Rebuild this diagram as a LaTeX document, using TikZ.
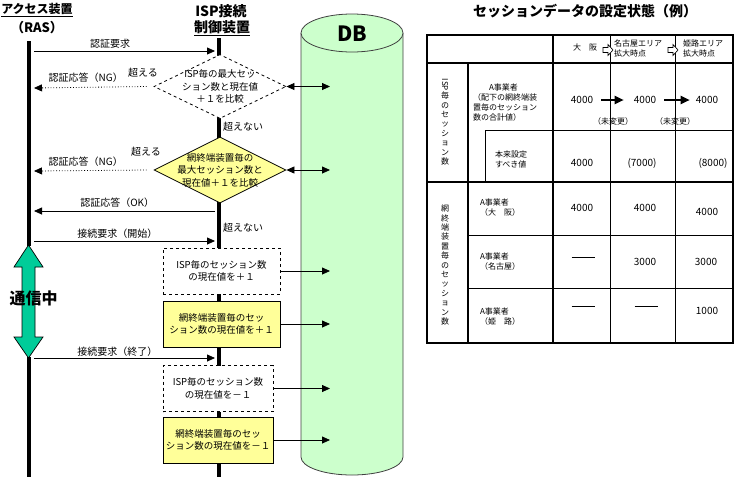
\documentclass[tikz,border=0pt]{standalone}
\usepackage{fontspec}
\setmainfont{Noto Sans CJK JP}
\usetikzlibrary{arrows.meta,shapes.geometric,positioning}
\definecolor{LYellow}{RGB}{255,255,153}
\definecolor{LGreen}{RGB}{204,255,204}
\definecolor{DGreen}{RGB}{0,204,153}
\definecolor{DGray}{HTML}{404040}
\newcommand{\fs}[2]{\fontsize{#1}{#2}\selectfont}
\NewDocumentCommand{\HollowArrow}{O{(0,0)}}{
    \begin{scope}[shift={#1}]
    \draw[fill=white, line width=0.6pt] (-5,-2.5) -- (0,-2.5) -- (0,-5.5)
        -- (5,0) -- (0,5.5) -- (0,2.5) -- (-5,2.5) -- cycle;
    \end{scope}
}
\NewDocumentCommand{\TalkArrow}{O{(0,0)}}{
    \begin{scope}[shift={#1}]
    \draw[fill=DGreen, line width=0.7pt] (0,0) -- (14.5,22) -- (6.5,22) -- (6.5,92)
        -- (14.5,92) -- (0,113) -- (-14.5,92) -- (-6.5,92) -- (-6.5,22)
        -- (-14.5,22) -- cycle;
    \end{scope}
}
\tikzset{
    msg/.style={line width=0.8pt, -{Triangle[length=8pt,width=7pt]}},
    ngmsg/.style={msg, dotted},
    dbmsg/.style={line width=0.8pt, {Triangle[length=8pt,width=7pt]}-{Triangle[length=8pt,width=7pt]}},
    life/.style={line width=3.5pt},
    lbl/.style={font=\fs{10}{12}, inner sep=1pt},
    head/.style={font=\fs{14}{16}\bfseries, inner sep=0pt},
    check/.style={diamond, draw, line width=0.8pt, minimum width=132pt, minimum height=64pt, inner sep=0pt},
    checktext/.style={font=\fs{9.5}{12.5}, align=center, inner sep=0pt},
    stepbox/.style={draw, line width=0.8pt, align=center, minimum height=46pt, font=\fs{9.5}{12.5}, inner sep=1pt},
    cell/.style={font=\fs{8}{10}, inner sep=0pt, align=left},
    val/.style={font=\fs{10}{12}, inner sep=1pt},
    valarrow/.style={line width=2pt, -{Triangle[length=9pt,width=8pt]}},
    nodash/.style={inner sep=0pt},
}

\begin{document}
\begin{tikzpicture}[x=1pt, y=-1pt]
\useasboundingbox (0,0) rectangle (735,477);

% DB
\path[fill=LGreen, draw=DGray, line width=0.8pt] (301,33) -- (301,457)
    arc[start angle=180, end angle=0, x radius=51, y radius=18] -- (403,33);
\draw[fill=LGreen, draw=DGray, line width=0.8pt] (352,33) ellipse[x radius=51, y radius=19];
\node[font=\fs{21}{21}\bfseries] (db-name) at (352,34) {DB};

% lifelines
\coordinate (ras-top) at (29,41);
\coordinate (ras-gap1) at (29,246);
\coordinate (ras-gap2) at (29,357);
\coordinate (ras-bot) at (29,477);
\coordinate (isp-top) at (219,38);
\coordinate (isp-bot) at (219,477);
\coordinate (db-in) at (330,0);
\foreach \nm/\y in {req/51, ng1/88, ng2/171, ok/211, start/241, fin/358} {
    \coordinate (ras-\nm) at (34,\y);
    \coordinate (isp-\nm) at (215,\y);
}

\node[head, font=\fs{12}{14}\bfseries] (ras-name) at (37,10) {\underline{アクセス装置}};
\node[head, font=\fs{13}{15}\bfseries] (ras-sub) at (37,28) {（RAS）};
\node[head] (isp-name) at (221,11) {ISP接続};
\node[head] (isp-sub) at (222,28) {\underline{制御装置}};

\draw[life] (ras-top) -- (ras-gap1);
\draw[life] (ras-gap2) -- (ras-bot);
\draw[life] (isp-top) -- (isp-bot);

\TalkArrow[(28.5,245)]
\node[font=\fs{16}{16}\bfseries, inner sep=0pt] (talk) at (33.5,298) {通信中};

% checks
\node[check, dashed, fill=white] (chk-isp) at (220,86.5) {};
\node[checktext] (chk-isp-txt) at (chk-isp) {ISP毎の最大セッ\\ション数と現在値\\＋１を比較};
\node[check, fill=LYellow, minimum height=66pt] (chk-net) at (220,170) {};
\node[checktext] (chk-net-txt) at (chk-net) {網終端装置毎の\\最大セッション数と\\現在値＋１を比較};

% counters
\node[stepbox, dashed, fill=white, minimum width=117pt] (add-isp) at (221.5,271) {ISP毎のセッション数\\の現在値を＋１};
\node[stepbox, fill=LYellow, minimum width=117pt] (add-net) at (221.5,324) {網終端装置毎のセッ\\ション数の現在値を＋１};
\node[stepbox, dashed, fill=white, minimum width=110pt] (sub-isp) at (218,388.5) {ISP毎のセッション数\\の現在値を－１};
\node[stepbox, fill=LYellow, minimum width=110pt] (sub-net) at (218,440) {網終端装置毎のセッ\\ション数の現在値を－１};

% messages
\draw[msg] (ras-req) -- node[above=1pt, lbl, pos=.42] (m-req) {認証要求} (isp-req);
\draw[ngmsg] ([xshift=-7pt]chk-isp.west) -- node[above=3pt, lbl, pos=.54] (m-ng1) {認証応答（NG）} (ras-ng1);
\draw[ngmsg] ([xshift=-7pt]chk-net.west) -- node[above=3pt, lbl, pos=.54] (m-ng2) {認証応答（NG）} (ras-ng2);
\draw[msg] (isp-ok) -- node[above=2pt, lbl, pos=.54] (m-ok) {認証応答（OK）} (ras-ok);
\draw[msg] (ras-start) -- node[above=1pt, lbl, pos=.46] (m-start) {接続要求（開始）} (isp-start);
\draw[msg] (ras-fin) -- node[above=0pt, lbl, pos=.46] (m-fin) {接続要求（終了）} (isp-fin);

\node[lbl] (over-1) at (143,73) {超える};
\node[lbl] (over-2) at (146,152) {超える};
\node[lbl, anchor=west] (under-1) at (222,127) {超えない};
\node[lbl, anchor=west] (under-2) at (222,228) {超えない};

% to DB
\draw[dbmsg] (chk-isp.east) -- (chk-isp.east -| db-in);
\draw[dbmsg] (chk-net.east) -- (chk-net.east -| db-in);
\draw[msg] (add-isp.east) -- (add-isp.east -| db-in);
\draw[msg] (add-net.east) -- (add-net.east -| db-in);
\draw[msg] (sub-isp.east) -- (sub-isp.east -| db-in);
\draw[msg] (sub-net.east) -- (sub-net.east -| db-in);

% table
\node[font=\fs{14}{14}\bfseries, inner sep=0pt] (tbl-title) at (585,11) {セッションデータの設定状態（例）};
\draw[line width=2pt] (427,35) rectangle (733,343);
\draw[line width=2pt] (427,63) -- (733,63) (427,182) -- (733,182)
    (468,63) -- (468,343) (553,35) -- (553,343);
\draw[line width=0.8pt] (610,35) -- (610,343) (675,35) -- (675,343)
    (485,130) -- (733,130) (485,130) -- (485,182)
    (468,235) -- (733,235) (468,288) -- (733,288);

\node[cell] (hd-osaka) at (585,47) {大　阪};
\node[cell] (hd-nagoya) at (638,48) {名古屋エリア\\拡大時点};
\node[cell] (hd-himeji) at (703,48) {姫路エリア\\拡大時点};
\HollowArrow[(608,50)]
\HollowArrow[(673,50)]

\node[cell, align=center, font=\fs{8}{9.4}] (side-isp) at (445,122)
    {\rotatebox{-90}{ISP}\\毎\\の\\セ\\ッ\\シ\\ョ\\ン\\数};
\node[cell, align=center, font=\fs{8}{9.4}] (side-net) at (445,265)
    {網\\終\\端\\装\\置\\毎\\の\\セ\\ッ\\シ\\ョ\\ン\\数};

\node[cell] (r1-name) at (505,103) {\hspace{2em}A事業者\\（配下の網終端装\\置毎のセッション\\数の合計値）};
\node[cell] (r2-name) at (511,159) {本来設定\\すべき値};
\node[cell] (r3-name) at (500,208) {A事業者\\（大　阪）};
\node[cell] (r4-name) at (500,262) {A事業者\\（名古屋）};
\node[cell] (r5-name) at (500,317) {A事業者\\（姫　路）};

\node[val] (r1-v1) at (582,100) {4000};
\node[val] (r1-v2) at (645,100) {4000};
\node[val] (r1-v3) at (707,100) {4000};
\draw[valarrow, shorten <=7pt, shorten >=9pt] (r1-v1.east) -- (r1-v2.west);
\draw[valarrow, shorten <=7pt, shorten >=5pt] (r1-v2.east) -- (r1-v3.west);
\node[cell] (r1-same1) at (613,121) {（未変更）};
\node[cell] (r1-same2) at (675,121) {（未変更）};

\node[val] (r2-v1) at (582,163) {4000};
\node[val] (r2-v2) at (642,163) {(7000)};
\node[val] (r2-v3) at (713,163) {(8000)};

\node[val] (r3-v1) at (582,208) {4000};
\node[val] (r3-v2) at (645,208) {4000};
\node[val] (r3-v3) at (707,212) {4000};

\node[nodash] (r4-v1) at (583,257) {\rule{23pt}{0.8pt}};
\node[val] (r4-v2) at (645,262) {3000};
\node[val] (r4-v3) at (706,262) {3000};

\node[nodash] (r5-v1) at (583,306) {\rule{23pt}{0.8pt}};
\node[nodash] (r5-v2) at (646,306) {\rule{23pt}{0.8pt}};
\node[val] (r5-v3) at (707,311) {1000};

\end{tikzpicture}
\end{document}
